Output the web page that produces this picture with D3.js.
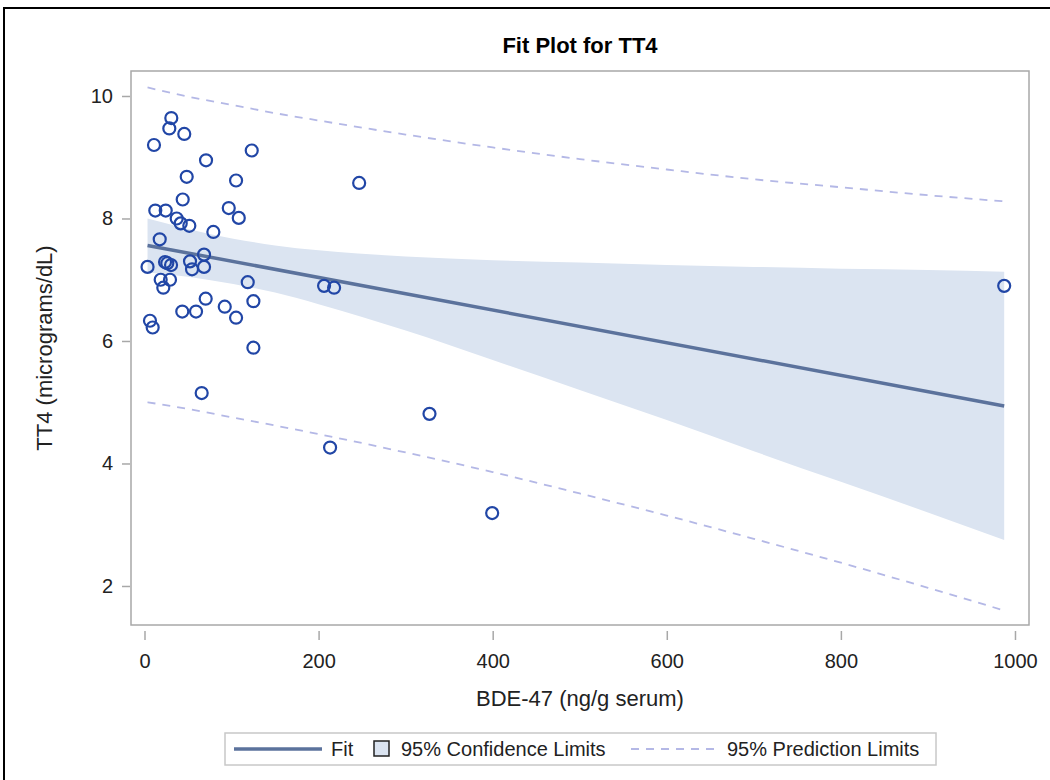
<!DOCTYPE html>
<html>
<head>
<meta charset="utf-8">
<script src="https://cdn.jsdelivr.net/npm/d3@7"></script>
<style>
  html, body { margin: 0; padding: 0; background: #ffffff; }
  svg { display: block; font-family: Arial, "Liberation Sans", sans-serif; }
</style>
</head>
<body>
<script>
// ---- Data ----
const bdeValues = [30.8, 28.5, 45.7, 10.9, 123.2, 70.7, 48.5, 105.2, 246.6, 43.9,
  12.4, 24.4, 96.8, 108.3, 37.0, 41.6, 51.5, 79.1, 17.5, 68.4,
  3.5, 23.6, 26.2, 30.5, 52.3, 54.6, 68.4, 18.6, 29.3, 21.6,
  118.6, 206.3, 217.8, 987.6, 70.3, 125.1, 43.4, 59.2, 92.2, 105.2,
  6.3, 9.4, 125.1, 65.7, 327.4, 213.2, 399.4];
const tt4Values = [9.64, 9.47, 9.38, 9.20, 9.11, 8.95, 8.68, 8.62, 8.58, 8.31,
  8.13, 8.13, 8.17, 8.01, 8.00, 7.92, 7.88, 7.78, 7.66, 7.41,
  7.21, 7.29, 7.27, 7.24, 7.30, 7.17, 7.21, 7.00, 7.00, 6.87,
  6.96, 6.90, 6.87, 6.90, 6.69, 6.65, 6.48, 6.48, 6.56, 6.38,
  6.33, 6.22, 5.89, 5.15, 4.81, 4.26, 3.19];

const fitX = [3.5, 987.6];
const fitY = [7.56, 4.94];

const bandX   = [3.5, 50, 102, 150, 200, 300, 400, 500, 600, 700, 800, 900, 987.6];
const clLower = [7.12, 7.05, 6.93, 6.79, 6.60, 6.17, 5.69, 5.20, 4.71, 4.20, 3.70, 3.20, 2.75];
const clUpper = [8.00, 7.83, 7.67, 7.56, 7.48, 7.38, 7.32, 7.28, 7.24, 7.21, 7.18, 7.16, 7.13];
const plLower = [5.00, 4.89, 4.75, 4.62, 4.48, 4.18, 3.86, 3.51, 3.15, 2.77, 2.38, 1.97, 1.60];
const plUpper = [10.14, 9.99, 9.85, 9.72, 9.60, 9.37, 9.16, 8.97, 8.80, 8.64, 8.51, 8.38, 8.28];

const xTicks = [0, 200, 400, 600, 800, 1000];
const yTicks = [2, 4, 6, 8, 10];

const titleText = "Fit Plot for TT4";
const xLabel = "BDE-47 (ng/g serum)";
const yLabel = "TT4 (micrograms/dL)";
const legendLabels = ["Fit", "95% Confidence Limits", "95% Prediction Limits"];

// ---- Layout ----
const W = 1050, H = 780;
const plot = { left: 131, right: 1029, top: 71, bottom: 625 };

const colors = {
  marker: "#2146a6",
  fit: "#5b729c",
  band: "#dbe4f1",
  pred: "#b4b8e6",
  frame: "#a8a8a8",
  text: "#222222"
};

const svg = d3.select("body").append("svg").attr("width", W).attr("height", H);

// outer border
svg.append("rect").attr("x", 4).attr("y", 8).attr("width", 1070).attr("height", 800)
  .attr("fill", "none").attr("stroke", "#000").attr("stroke-width", 2);

const x = d3.scaleLinear().domain([-15.5, 1016.1]).range([plot.left, plot.right]);
const y = d3.scaleLinear().domain([1.363, 10.408]).range([plot.bottom, plot.top]);

// Title
svg.append("text").attr("x", (plot.left + plot.right) / 2).attr("y", 53)
  .attr("text-anchor", "middle").attr("font-size", 22).attr("font-weight", "bold")
  .attr("fill", "#000").text(titleText);

// plot background
svg.append("rect").attr("x", plot.left).attr("y", plot.top)
  .attr("width", plot.right - plot.left).attr("height", plot.bottom - plot.top)
  .attr("fill", "#fff");

const bandData = bandX.map((v, i) => ({ x: v, cl: clLower[i], cu: clUpper[i], pl: plLower[i], pu: plUpper[i] }));

// confidence band
svg.append("path").datum(bandData)
  .attr("fill", colors.band)
  .attr("d", d3.area().x(d => x(d.x)).y0(d => y(d.cl)).y1(d => y(d.cu)).curve(d3.curveMonotoneX));

// prediction limits
["pl", "pu"].forEach(k => {
  svg.append("path").datum(bandData)
    .attr("fill", "none").attr("stroke", colors.pred).attr("stroke-width", 1.8)
    .attr("stroke-dasharray", "8,7")
    .attr("d", d3.line().x(d => x(d.x)).y(d => y(d[k])).curve(d3.curveMonotoneX));
});

// fit line
svg.append("path").datum(fitX.map((v, i) => [v, fitY[i]]))
  .attr("fill", "none").attr("stroke", colors.fit).attr("stroke-width", 3.5)
  .attr("d", d3.line().x(d => x(d[0])).y(d => y(d[1])));

// points
svg.append("g").selectAll("circle").data(bdeValues.map((v, i) => [v, tt4Values[i]]))
  .join("circle")
  .attr("cx", d => x(d[0])).attr("cy", d => y(d[1])).attr("r", 6)
  .attr("fill", "none").attr("stroke", colors.marker).attr("stroke-width", 2.2);

// frame
svg.append("rect").attr("x", plot.left).attr("y", plot.top)
  .attr("width", plot.right - plot.left).attr("height", plot.bottom - plot.top)
  .attr("fill", "none").attr("stroke", colors.frame).attr("stroke-width", 1.5);

// axes
const xAxis = d3.axisBottom(x).tickValues(xTicks).tickSize(9).tickPadding(14).tickFormat(d3.format("d"));
const gx = svg.append("g").attr("transform", `translate(0,${plot.bottom + 6})`).call(xAxis);
gx.select(".domain").remove();
gx.selectAll(".tick line").attr("stroke", colors.frame).attr("stroke-width", 1.5);
gx.selectAll(".tick text").attr("font-size", 20).attr("fill", colors.text)
  .attr("font-family", "Arial, 'Liberation Sans', sans-serif");

const yAxis = d3.axisLeft(y).tickValues(yTicks).tickSize(8).tickPadding(9).tickFormat(d3.format("d"));
const gy = svg.append("g").attr("transform", `translate(${plot.left - 1},0)`).call(yAxis);
gy.select(".domain").remove();
gy.selectAll(".tick line").attr("stroke", colors.frame).attr("stroke-width", 1.5);
gy.selectAll(".tick text").attr("font-size", 20).attr("fill", colors.text)
  .attr("font-family", "Arial, 'Liberation Sans', sans-serif");

// axis labels
svg.append("text").attr("x", (plot.left + plot.right) / 2).attr("y", 706)
  .attr("text-anchor", "middle").attr("font-size", 22).attr("fill", colors.text).text(xLabel);
svg.append("text").attr("transform", `translate(52,${(plot.top + plot.bottom) / 2}) rotate(-90)`)
  .attr("text-anchor", "middle").attr("font-size", 22).attr("fill", colors.text).text(yLabel);

// legend
const lg = svg.append("g");
lg.append("rect").attr("x", 225).attr("y", 733).attr("width", 711).attr("height", 32)
  .attr("fill", "#fff").attr("stroke", "#c8c8c8").attr("stroke-width", 1.5);
const ly = 749;
lg.append("line").attr("x1", 234).attr("x2", 322).attr("y1", ly).attr("y2", ly)
  .attr("stroke", colors.fit).attr("stroke-width", 3.5);
lg.append("text").attr("x", 331).attr("y", ly + 7).attr("font-size", 20).attr("fill", colors.text).text(legendLabels[0]);
lg.append("rect").attr("x", 374).attr("y", ly - 8).attr("width", 15).attr("height", 15)
  .attr("fill", colors.band).attr("stroke", "#222").attr("stroke-width", 1.5);
lg.append("text").attr("x", 401).attr("y", ly + 7).attr("font-size", 20).attr("fill", colors.text).text(legendLabels[1]);
lg.append("line").attr("x1", 631).attr("x2", 715).attr("y1", ly).attr("y2", ly)
  .attr("stroke", colors.pred).attr("stroke-width", 1.8).attr("stroke-dasharray", "8,7");
lg.append("text").attr("x", 727).attr("y", ly + 7).attr("font-size", 20).attr("fill", colors.text).text(legendLabels[2]);
</script>
</body>
</html>
